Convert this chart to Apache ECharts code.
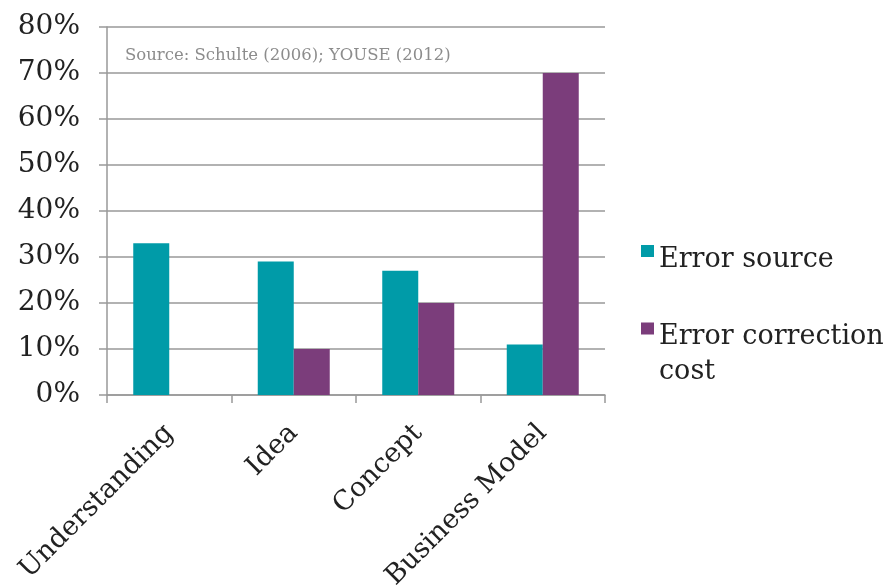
<!DOCTYPE html>
<html><head><meta charset="utf-8">
<script src="https://cdn.jsdelivr.net/npm/echarts@6/dist/echarts.min.js"></script>
<style>html,body{margin:0;padding:0;background:#fff}#c{width:889px;height:585px}</style>
</head><body><div id="c"></div>
<script>
const categories = ['Understanding', 'Idea', 'Concept', 'Business Model'];
const errorSource = [33, 29, 27, 11];
const correctionCost = [null, 10, 20, 70];
const yTicks = [0, 10, 20, 30, 40, 50, 60, 70, 80];
const sourceNote = 'Source: Schulte (2006); YOUSE (2012)';

const FONT = 'DejaVu Serif';
const chart = echarts.init(document.getElementById('c'));
chart.setOption({
  animation: false,
  backgroundColor: '#fff',
  title: {
    text: sourceNote, left: 120, top: 42,
    textStyle: {fontFamily: FONT, fontSize: 16.5, fontWeight: 'normal', color: '#8c8c8c'}
  },
  grid: {left: 107, right: 284, top: 27, bottom: 190, containLabel: false, outerBoundsMode: 'none'},
  legend: [{
    data: ['Error source'], orient: 'vertical', left: 636, top: 240,
    itemWidth: 13, itemHeight: 30,
    icon: 'path://M0,0h13v12h-13zM0,29.9h0.05v0.1h-0.05z',
    textStyle: {fontFamily: FONT, fontSize: 27, color: '#222'}
  }, {
    data: ['Error correction cost'], orient: 'vertical', left: 636, top: 314,
    itemWidth: 13, itemHeight: 63,
    icon: 'path://M0,0h13v12h-13zM0,62.9h0.05v0.1h-0.05z',
    formatter: () => 'Error correction\ncost',
    textStyle: {fontFamily: FONT, fontSize: 27, color: '#222', lineHeight: 35}
  }],
  xAxis: {
    type: 'category', data: categories,
    axisLine: {lineStyle: {color: '#999', width: 1.5}},
    axisTick: {show: true, length: 8, lineStyle: {color: '#999', width: 1.5}},
    axisLabel: {rotate: 45, margin: 34, fontFamily: FONT, fontSize: 27, color: '#222'}
  },
  yAxis: {
    type: 'value', min: yTicks[0], max: yTicks[yTicks.length - 1], interval: 10,
    axisLine: {show: true, lineStyle: {color: '#999', width: 1.5}},
    axisTick: {show: true, length: 8, lineStyle: {color: '#999', width: 1.5}},
    splitLine: {lineStyle: {color: '#999', width: 1.5}},
    axisLabel: {margin: 27, fontFamily: FONT, fontSize: 28, color: '#222', formatter: v => v + '%'}
  },
  series: [
    {name: 'Error source', type: 'bar', data: errorSource, barWidth: 36, barGap: '0%',
     itemStyle: {color: '#009ba8'}},
    {name: 'Error correction cost', type: 'bar', data: correctionCost, barWidth: 36, barGap: '0%',
     itemStyle: {color: '#7b3d7b'}}
  ]
});
</script></body></html>
